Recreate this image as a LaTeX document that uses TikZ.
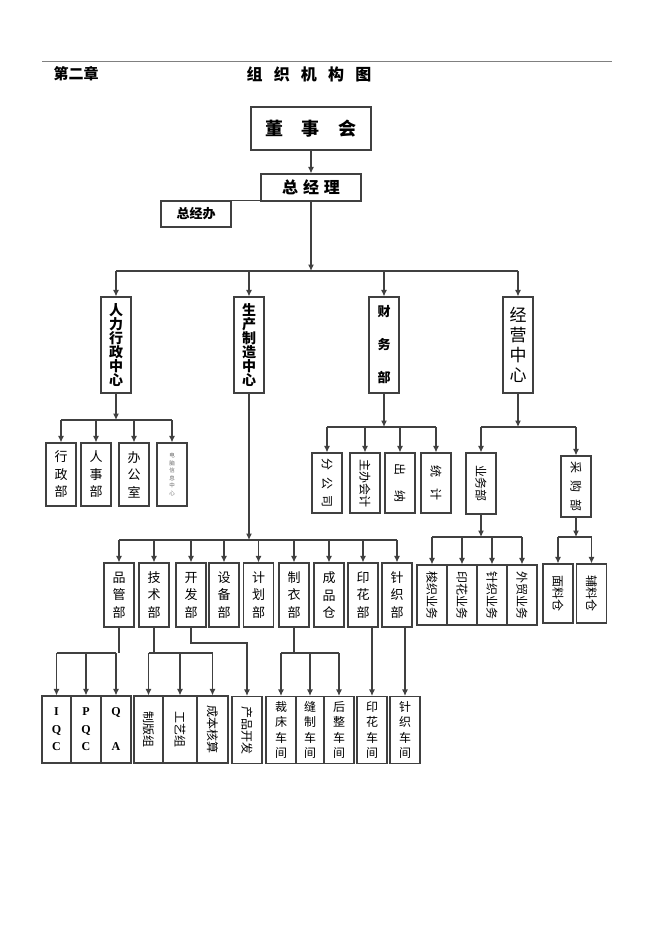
\documentclass[tikz,border=0pt]{standalone}
\usepackage{fontspec}
\usepackage{graphicx}
\setmainfont{Liberation Serif}
\newfontfamily\cjk{Noto Sans CJK SC}
\usetikzlibrary{arrows.meta}
\tikzset{
  box/.style={draw=black!75, line width=1.1pt, inner sep=0pt, align=center},
  conn/.style={draw=black!75, line width=1.1pt},
  arr/.style={conn, -{Latex[length=6.5pt,width=6pt]}},
  ctr/.style={box, minimum width=30pt, minimum height=96pt, font=\cjk\bfseries\fontsize{14}{14}\selectfont},
  dept/.style={box, minimum width=30pt, minimum height=64pt, font=\cjk\fontsize{13}{17.5}\selectfont},
  rdept/.style={box, minimum width=30pt, minimum height=61pt, font=\cjk\fontsize{12}{14}\selectfont},
  shop/.style={box, minimum width=30pt, minimum height=67pt, font=\cjk\fontsize{12}{15.5}\selectfont},
}
\newcommand{\rt}[1]{\rotatebox{-90}{#1}}
\begin{document}
\begin{tikzpicture}[x=1pt,y=-1pt]
\useasboundingbox (0,0) rectangle (662,936);

% header
\draw[black!50, line width=0.8pt] (42,61) -- (612,61);
\node[font=\cjk\bfseries\fontsize{15}{18}\selectfont] (chap) at (76,74) {第二章};
\node[font=\cjk\bfseries\fontsize{16}{18}\selectfont] (title) at (309,74) {组\hspace{0.7em}织\hspace{0.7em}机\hspace{0.7em}构\hspace{0.7em}图};

% top
\node[box, minimum width=120pt, minimum height=43pt, font=\cjk\bfseries\fontsize{18}{20}\selectfont] (dsh) at (311,128.5) {董\hspace{1em}事\hspace{1.1em}会};
\node[box, minimum width=100pt, minimum height=27pt, font=\cjk\bfseries\fontsize{16}{18}\selectfont] (zjl) at (311,187.5) {总\hspace{0.3em}经\hspace{0.3em}理};
\node[box, minimum width=70pt, minimum height=26pt, font=\cjk\bfseries\fontsize{13}{15}\selectfont] (zjb) at (196,214) {总经办};

% centres
\node[ctr] (rl) at (116,345) {人\\力\\行\\政\\中\\心};
\node[ctr] (sc) at (249,345) {生\\产\\制\\造\\中\\心};
\node[ctr, font=\cjk\bfseries\fontsize{13}{33}\selectfont] (cw) at (384,345) {财\\务\\部};
\node[ctr, font=\cjk\fontsize{17}{20}\selectfont] (jy) at (518,345) {经\\营\\中\\心};

% hr
\node[dept, minimum height=63pt] (xz) at (61,474.5) {行\\政\\部};
\node[dept, minimum height=63pt] (rs) at (96,474.5) {人\\事\\部};
\node[dept, minimum height=63pt] (bgs) at (134,474.5) {办\\公\\室};
\node[dept, minimum height=63pt, font=\cjk\fontsize{5.5}{7.5}\selectfont, text=black!60] (dn) at (172,474.5) {电\\脑\\信\\息\\中\\心};

% finance
\node[rdept, minimum height=60pt] (fgs) at (327,483) {\rt{分\hspace{0.55em}公\hspace{0.55em}司}};
\node[rdept, minimum height=60pt] (zbkj) at (365,483) {\rt{主办会计}};
\node[rdept, minimum height=60pt] (cn) at (400,483) {\rt{出\hspace{1.2em}纳}};
\node[rdept, minimum height=60pt] (tj) at (436,483) {\rt{统\hspace{0.9em}计}};

% business
\node[rdept] (ywb) at (481,483.5) {\rt{业务部}};
\node[rdept] (cgb) at (576,486.5) {\rt{采\hspace{0.6em}购\hspace{0.6em}部}};
\node[rdept, minimum height=60pt] (sz) at (432,595) {\rt{梭织业务}};
\node[rdept, minimum height=60pt] (yhyw) at (462,595) {\rt{印花业务}};
\node[rdept, minimum height=60pt] (zzyw) at (492,595) {\rt{针织业务}};
\node[rdept, minimum height=60pt] (wmyw) at (522,595) {\rt{外贸业务}};
\node[rdept, minimum height=59pt] (mlc) at (558,593.5) {\rt{面料仓}};
\node[rdept, minimum height=59pt] (flc) at (591.5,593.5) {\rt{辅料仓}};

% production
\node[dept] (pg) at (119,595) {品\\管\\部};
\node[dept] (js) at (154,595) {技\\术\\部};
\node[dept] (kf) at (191,595) {开\\发\\部};
\node[dept] (sb) at (224,595) {设\\备\\部};
\node[dept] (jh) at (258.5,595) {计\\划\\部};
\node[dept] (zy) at (294,595) {制\\衣\\部};
\node[dept] (cp) at (329,595) {成\\品\\仓};
\node[dept] (yh) at (363,595) {印\\花\\部};
\node[dept] (zz) at (397,595) {针\\织\\部};

% bottom
\node[shop, minimum width=29pt, font=\bfseries\fontsize{12}{17.5}\selectfont] (iqc) at (56.5,729.5) {I\\Q\\C};
\node[shop, minimum width=30pt, font=\bfseries\fontsize{12}{17.5}\selectfont] (pqc) at (86,729.5) {P\\Q\\C};
\node[shop, minimum width=30pt, font=\bfseries\fontsize{12}{35}\selectfont] (qa) at (116,729.5) {Q\\A};
\node[shop, minimum width=29pt] (zbz) at (148.5,729.5) {\rt{制版组}};
\node[shop, minimum width=34pt] (gyz) at (180,729.5) {\rt{工艺组}};
\node[shop, minimum width=31pt] (cbhs) at (212.5,729.5) {\rt{成本核算}};
\node[shop] (cpkf) at (247,730) {\rt{产品开发}};
\node[shop] (ccj) at (281,730) {裁\\床\\车\\间};
\node[shop, minimum width=28pt] (fzj) at (310,730) {缝\\制\\车\\间};
\node[shop] (hzj) at (339,730) {后\\整\\车\\间};
\node[shop] (yhcj) at (372,730) {印\\花\\车\\间};
\node[shop] (zzcj) at (405,730) {针\\织\\车\\间};

% bus rows
\coordinate (b1) at (0,271);
\coordinate (b2) at (0,420);
\coordinate (b3) at (0,427);
\coordinate (b4) at (0,537);
\coordinate (b5) at (0,540);
\coordinate (b6) at (0,653);
\coordinate (b7) at (0,643);

% links
\draw[arr] (dsh) -- (zjl);
\draw[conn] (zjb.north east) -- (zjb.north east -| zjl.west);
\draw[arr] (zjl) -- (zjl |- b1);
\draw[conn] (rl |- b1) -- (jy |- b1);
\foreach \n in {rl,sc,cw,jy}
  \draw[arr] (\n |- b1) -- (\n.north);

\draw[arr] (rl) -- (rl |- b2);
\draw[conn] (xz |- b2) -- (dn |- b2);
\foreach \n in {xz,rs,bgs,dn}
  \draw[arr] (\n |- b2) -- (\n.north);

\draw[arr] (cw) -- (cw |- b3);
\draw[conn] (fgs |- b3) -- (tj |- b3);
\foreach \n in {fgs,zbkj,cn,tj}
  \draw[arr] (\n |- b3) -- (\n.north);

\draw[arr] (jy) -- (jy |- b3);
\draw[conn] (ywb |- b3) -- (cgb |- b3);
\foreach \n in {ywb,cgb}
  \draw[arr] (\n |- b3) -- (\n.north);

\draw[arr] (ywb) -- (ywb |- b4);
\draw[conn] (sz |- b4) -- (wmyw |- b4);
\foreach \n in {sz,yhyw,zzyw,wmyw}
  \draw[arr] (\n |- b4) -- (\n.north);

\draw[arr] (cgb) -- (cgb |- b4);
\draw[conn] (mlc |- b4) -- (flc |- b4);
\foreach \n in {mlc,flc}
  \draw[arr] (\n |- b4) -- (\n.north);

\draw[arr] (sc) -- (sc |- b5);
\draw[conn] (pg |- b5) -- (zz |- b5);
\foreach \n in {pg,js,kf,sb,jh,zy,cp,yh,zz}
  \draw[arr] (\n |- b5) -- (\n.north);

\draw[conn] (pg) -- (pg |- b6);
\draw[conn] (iqc |- b6) -- (qa |- b6);
\foreach \n in {iqc,pqc,qa}
  \draw[arr] (\n |- b6) -- (\n.north);

\draw[conn] (js) -- (js |- b6);
\draw[conn] (zbz |- b6) -- (cbhs |- b6);
\foreach \n in {zbz,gyz,cbhs}
  \draw[arr] (\n |- b6) -- (\n.north);

\draw[arr] (kf) -- (kf |- b7) -| (cpkf.north);

\draw[conn] (zy) -- (zy |- b6);
\draw[conn] (ccj |- b6) -- (hzj |- b6);
\foreach \n in {ccj,fzj,hzj}
  \draw[arr] (\n |- b6) -- (\n.north);

\draw[arr] (yhcj.north |- yh.south) -- (yhcj.north);
\draw[arr] (zzcj.north |- zz.south) -- (zzcj.north);
\end{tikzpicture}
\end{document}
